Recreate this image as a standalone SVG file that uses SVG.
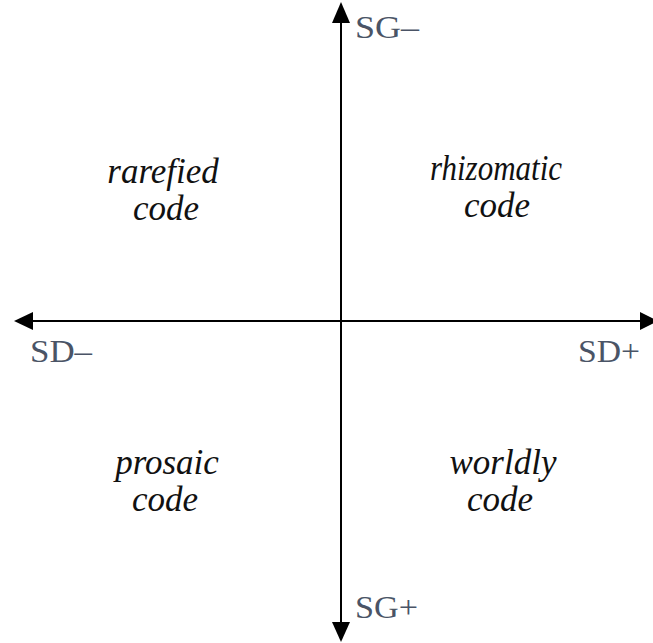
<svg xmlns="http://www.w3.org/2000/svg" width="653" height="643" viewBox="0 0 653 643">
<style>
.axis{stroke:#000;stroke-width:2;fill:none}
.head{fill:#000}
.lab{font-family:"Liberation Serif",serif;font-size:32px;fill:#4a5466}
.code{font-family:"Liberation Serif",serif;font-style:italic;font-size:35px;fill:#111;text-anchor:middle}
</style>
<rect width="653" height="643" fill="#fff"/>
<g id="connectors">
<line class="axis" x1="341" y1="18" x2="341" y2="626"/>
<polygon class="head" points="341,2 332,23 350,23"/>
<polygon class="head" points="341,642 332,622 350,622"/>
<line class="axis" x1="30" y1="321" x2="640" y2="321"/>
<polygon class="head" points="14,321 33,312 33,330"/>
<polygon class="head" points="658,321 640,312 640,330"/>
</g>
<g id="label-sg-minus"><text class="lab" x="355" y="38" textLength="64" lengthAdjust="spacingAndGlyphs">SG–</text></g>
<g id="label-sd-minus"><text class="lab" x="30" y="362" textLength="62" lengthAdjust="spacingAndGlyphs">SD–</text></g>
<g id="label-sd-plus"><text class="lab" x="578" y="362" textLength="62" lengthAdjust="spacingAndGlyphs">SD+</text></g>
<g id="label-sg-plus"><text class="lab" x="355" y="618" textLength="63" lengthAdjust="spacingAndGlyphs">SG+</text></g>
<g id="rarefied"><text class="code" x="163" y="183">rarefied</text><text class="code" x="166" y="220">code</text></g>
<g id="rhizomatic"><text class="code" x="496" y="180" textLength="132" lengthAdjust="spacingAndGlyphs">rhizomatic</text><text class="code" x="497" y="217">code</text></g>
<g id="prosaic"><text class="code" x="167" y="474">prosaic</text><text class="code" x="165" y="511">code</text></g>
<g id="worldly"><text class="code" x="503" y="474">worldly</text><text class="code" x="500" y="511">code</text></g>
</svg>
